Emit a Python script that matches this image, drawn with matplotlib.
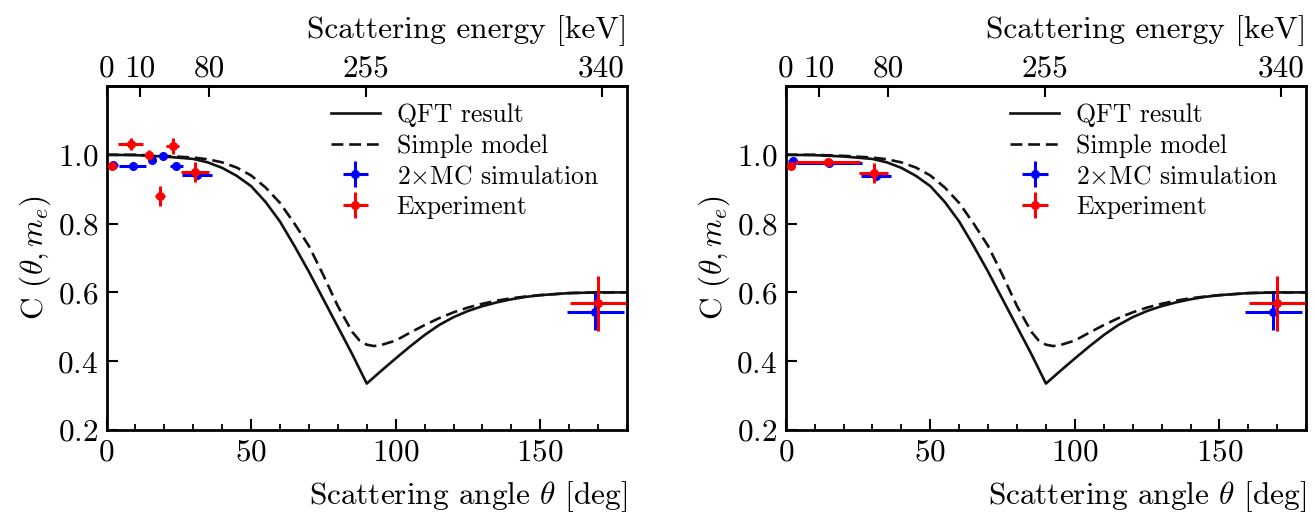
import numpy as np
import matplotlib
matplotlib.use("Agg")
import matplotlib.pyplot as plt
from matplotlib.ticker import MultipleLocator

plt.rcParams['font.family'] = ['cmr10', 'DejaVu Serif']
plt.rcParams['mathtext.fontset'] = 'cm'
plt.rcParams['axes.formatter.use_mathtext'] = True

# ---- curves ----
theta_qft = [0, 10, 20, 30, 35, 40, 45, 50, 55, 60, 65, 70, 75, 80, 85, 90,
             95, 100, 105, 110, 115, 120, 125, 130, 135, 140, 145, 150, 155, 160, 170, 180]
c_qft = [1.0, 0.999, 0.995, 0.988, 0.978, 0.962, 0.939, 0.909, 0.863, 0.806, 0.735, 0.66,
         0.58, 0.50, 0.42, 0.335, 0.372, 0.408, 0.443, 0.476, 0.505, 0.528, 0.546,
         0.56, 0.571, 0.58, 0.587, 0.592, 0.595, 0.598, 0.6, 0.6]

theta_simple = [0, 10, 20, 30, 35, 40, 45, 50, 55, 60, 65, 70, 75, 80, 85, 87.5, 90,
                92.5, 95, 100, 105, 110, 115, 120, 125, 130, 135, 140, 145, 150, 160, 170, 180]
c_simple = [1.0, 1.0, 0.997, 0.992, 0.987, 0.978, 0.963, 0.94, 0.905, 0.86, 0.80, 0.735,
            0.65, 0.56, 0.485, 0.46, 0.448, 0.444, 0.447, 0.46, 0.483, 0.505, 0.525,
            0.542, 0.556, 0.567, 0.576, 0.583, 0.588, 0.592, 0.598, 0.6, 0.6]

# ---- left panel data ----
L_mc_theta = [2.4, 9.0, 15.8, 19.4, 24.2, 31.3, 169.0]
L_mc_c = [0.971, 0.968, 0.986, 0.997, 0.968, 0.940, 0.544]
L_mc_xerr = [1.5, 4.8, 1.4, 1.0, 2.3, 5.2, 9.9]
L_mc_yerr = [0.005, 0.005, 0.006, 0.005, 0.006, 0.006, 0.053]

L_ex_theta = [1.9, 8.3, 14.6, 18.4, 22.9, 30.5, 169.9]
L_ex_c = [0.968, 1.031, 1.0, 0.88, 1.026, 0.949, 0.568]
L_ex_xerr = [0.8, 4.4, 0.8, 1.7, 2.3, 4.9, 9.7]
L_ex_yerr = [0.005, 0.017, 0.015, 0.029, 0.024, 0.029, 0.08]

# ---- right panel data ----
R_mc_theta = [2.4, 15.1, 31.3, 168.6]
R_mc_c = [0.983, 0.976, 0.937, 0.544]
R_mc_xerr = [1.5, 11.3, 5.1, 9.9]
R_mc_yerr = [0.005, 0.005, 0.006, 0.053]

R_ex_theta = [1.7, 14.5, 30.4, 169.8]
R_ex_c = [0.968, 0.978, 0.947, 0.568]
R_ex_xerr = [0.8, 11.2, 5.0, 9.7]
R_ex_yerr = [0.005, 0.006, 0.028, 0.08]

energy_ticks = [0, 10, 80, 255, 340]
y_ticks = [0.2, 0.4, 0.6, 0.8, 1.0]

ME = 511.0


def ang2en(th):
    th = np.asarray(th, dtype=float)
    return ME - ME / (2.0 - np.cos(np.deg2rad(th)))


def en2ang(e):
    e = np.asarray(e, dtype=float)
    e = np.clip(e, -1e3, ME * 2 / 3 - 1e-9)
    c = 2.0 - ME / (ME - e)
    return np.rad2deg(np.arccos(np.clip(c, -1, 1)))


FS = 22.5
LFS = 18.5
fig = plt.figure(figsize=(13.15, 5.12), dpi=100)
W, H = 1315.0, 512.0
positions = [106.5, 785.7]
panels = [
    (L_mc_theta, L_mc_c, L_mc_xerr, L_mc_yerr, L_ex_theta, L_ex_c, L_ex_xerr, L_ex_yerr),
    (R_mc_theta, R_mc_c, R_mc_xerr, R_mc_yerr, R_ex_theta, R_ex_c, R_ex_xerr, R_ex_yerr),
]

for x0, pdat in zip(positions, panels):
    ax = fig.add_axes([x0 / W, 1 - 430 / H, 520.5 / W, 344 / H])
    mt, mc, mxe, mye, et, ec, exe, eye = pdat
    ax.plot(theta_qft, c_qft, color='#111111', lw=1.9, label='QFT result', zorder=2)
    ax.plot(theta_simple, c_simple, color='#111111', lw=1.9, ls=(0, (4.5, 2.2)),
            label='Simple model', zorder=2)
    ax.errorbar(mt, mc, xerr=mxe, yerr=mye, fmt='o', color='blue', ms=5.5,
                elinewidth=2.2, capsize=0, label=r'2$\times$MC simulation', zorder=3)
    ax.errorbar(et, ec, xerr=exe, yerr=eye, fmt='o', color='red', ms=5.5,
                elinewidth=2.2, capsize=0, label='Experiment', zorder=4)
    ax.set_xlim(0, 180)
    ax.set_ylim(0.2, 1.2)
    ax.set_yticks(y_ticks)
    ax.xaxis.set_major_locator(MultipleLocator(50))
    ax.xaxis.set_minor_locator(MultipleLocator(10))
    ax.tick_params(which='major', direction='in', length=8, width=1.5, labelsize=FS, pad=6)
    ax.tick_params(which='minor', direction='in', length=4, width=1.3)
    for s in ax.spines.values():
        s.set_linewidth(2.0)
    ax.set_xlabel(r'Scattering angle $\theta$ [deg]', fontsize=FS, loc='right', labelpad=9)
    ax.set_ylabel(r'C $(\theta, m_e)$', fontsize=FS, labelpad=3)

    sec = ax.secondary_xaxis('top', functions=(ang2en, en2ang))
    sec.set_xticks(energy_ticks)
    sec.set_xticklabels([str(e) for e in energy_ticks])
    sec.tick_params(direction='in', length=8, width=1.5, labelsize=FS, pad=2.5)
    sec.xaxis.set_minor_locator(matplotlib.ticker.NullLocator())
    sec.set_xlabel('Scattering energy [keV]', fontsize=FS, loc='right', labelpad=12)
    sec.spines['top'].set_linewidth(2.0)

    ax.legend(loc='upper right', bbox_to_anchor=(0.985, 1.01), frameon=False,
              fontsize=LFS, handlelength=1.9, handletextpad=0.65, labelspacing=0.27,
              borderpad=0.3)

fig.savefig('out.png', dpi=100)
